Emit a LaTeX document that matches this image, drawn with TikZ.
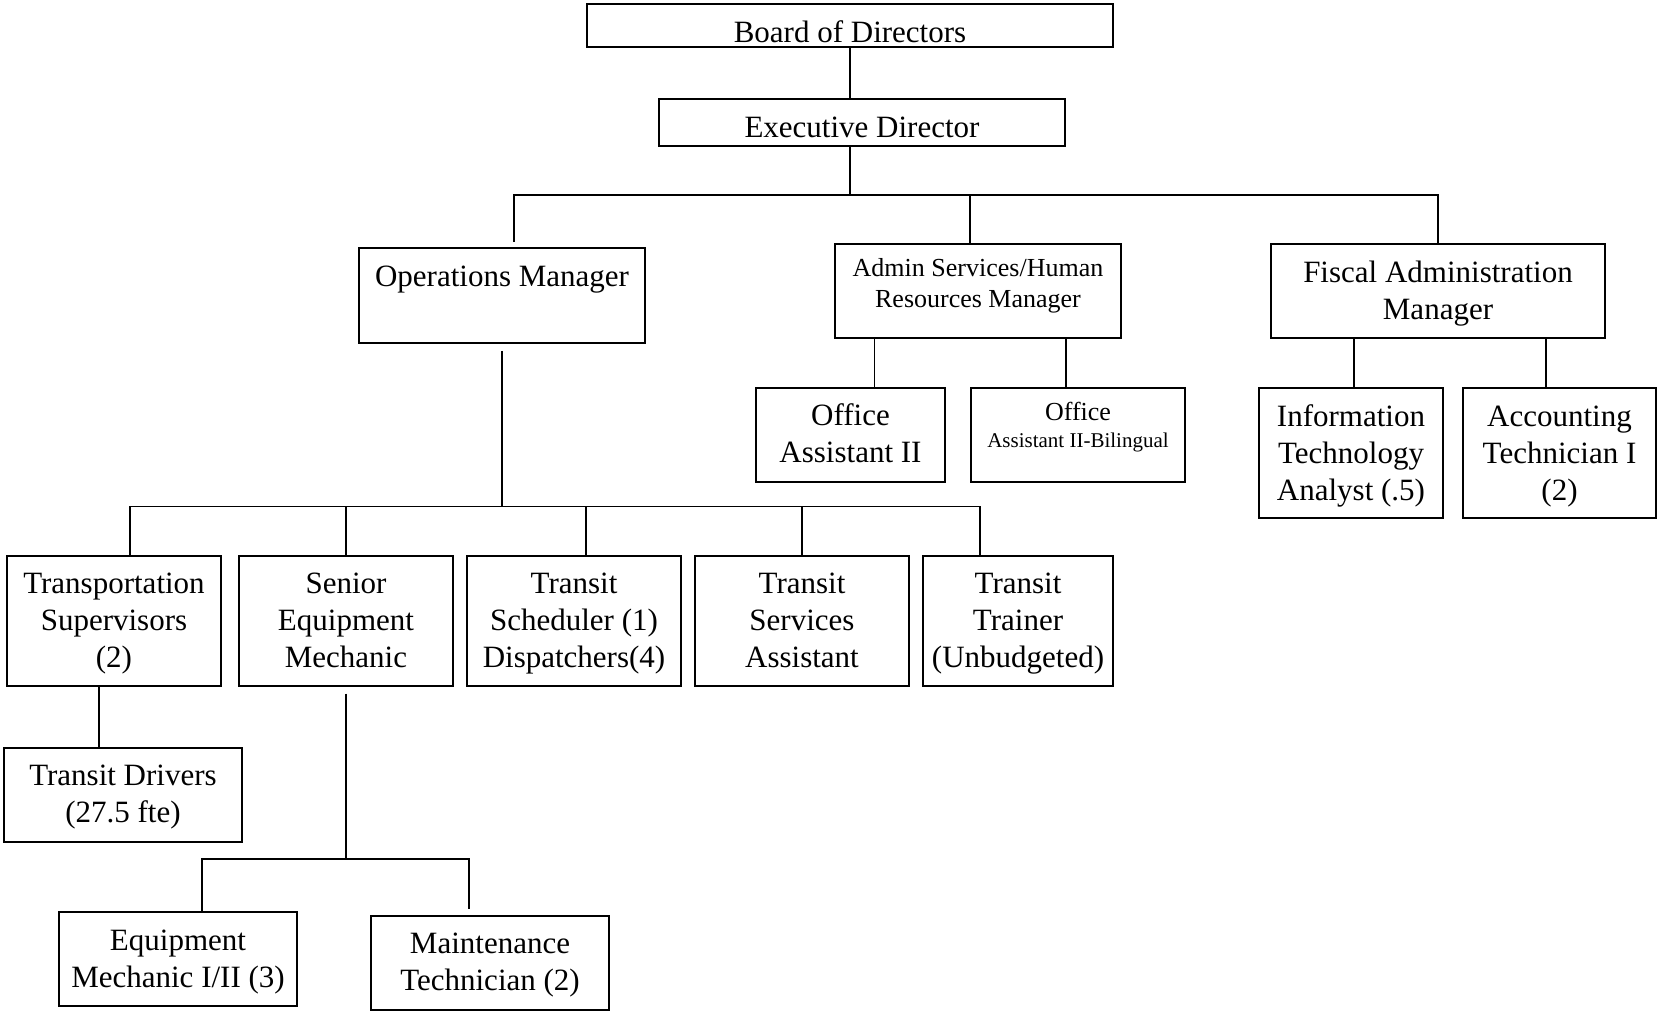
\documentclass[tikz,border=0pt]{standalone}
\usepackage{fontspec}
\setmainfont{Liberation Serif}
\usetikzlibrary{positioning}
\tikzstyle{role} = [rectangle, draw=black, line width=1.8pt, inner sep=0pt, minimum width=214pt, minimum height=130pt, text height=112pt, text depth=18pt, align=center, font=\fontsize{31}{37}\selectfont]
\tikzstyle{link} = [line width=1.6pt]
\begin{document}
\begin{tikzpicture}[x=1pt, y=-1pt]
    \useasboundingbox (0,0) rectangle (1657,1013);

        % board and director
        \node (board) [role, minimum width=526pt, minimum height=43pt, text height=38pt, text depth=5pt] at (850,25.5) {Board of Directors};
        \node (exec) [role, minimum width=406pt, minimum height=47pt, text height=38pt, text depth=9pt] at (862,122.5) {Executive Director};

        % managers
        \node (ops) [role, minimum width=286pt, minimum height=95pt, text height=38pt, text depth=57pt] at (502,295.5) {Operations Manager};
        \node (admin) [role, minimum width=286pt, minimum height=94pt, text height=63pt, text depth=31pt, font=\fontsize{26}{31}\selectfont] at (978,291) {Admin Services/Human\\Resources Manager};
        \node (fiscal) [role, minimum width=334pt, minimum height=94pt, text height=75pt, text depth=19pt] at (1438,291) {Fiscal Administration\\Manager};

        \coordinate (split1) at (850,195);
        \draw [link] (board.south) -- (board.south |- exec.north);
        \draw [link] (board.south |- exec.south) -- (split1);
        \draw [link, shorten >=5pt] (split1) -| ([xshift=12pt]ops.north);
        \draw [link] (split1) -| ([xshift=-8pt]admin.north);
        \draw [link] (split1) -| (fiscal.north);

        % admin and fiscal staff
        \node (officeA) [role, minimum width=189pt, minimum height=94pt, text height=74pt, text depth=20pt] at (850.5,435) {Office\\Assistant II};
        \node (officeB) [role, minimum width=214pt, minimum height=94pt, right=24.2pt of officeA, text height=59pt, text depth=35pt, font=\fontsize{21}{27}\selectfont] {{\fontsize{26}{27}\selectfont Office}\\Assistant II-Bilingual};
        \node (itA) [role, minimum width=184pt, minimum height=130pt] at (1351,453) {Information\\Technology\\Analyst (.5)};
        \node (acct) [role, minimum width=193pt, minimum height=130pt, right=18.2pt of itA] {Accounting\\Technician I\\(2)};

        \draw [link] ([xshift=24pt]officeA.north) -- ([xshift=24pt]officeA.north |- admin.south);
        \draw [link] ([xshift=-12pt]officeB.north) -- ([xshift=-12pt]officeB.north |- admin.south);
        \draw [link] ([xshift=3pt]itA.north) -- ([xshift=3pt]itA.north |- fiscal.south);
        \draw [link] ([xshift=-13.5pt]acct.north) -- ([xshift=-13.5pt]acct.north |- fiscal.south);

        % operations staff
        \node (trans) [role] at (114,620.7) {Transportation\\Supervisors\\(2)};
        \node (senior) [role, right=16.2pt of trans] {Senior\\Equipment\\Mechanic};
        \node (sched) [role, right=12.2pt of senior] {Transit\\Scheduler (1)\\Dispatchers(4)};
        \node (serv) [role, right=12.2pt of sched] {Transit\\Services\\Assistant};
        \node (trainer) [role, minimum width=190pt, right=12.2pt of serv] {Transit\\Trainer\\(Unbudgeted)};

        \coordinate (split2) at (ops.south |- 0,506.5);
        \draw [link, shorten <=7pt] (ops.south) -- (split2);
        \draw [link] (split2) -| ([xshift=16pt]trans.north);
        \draw [link] (split2) -| (senior.north);
        \draw [link] (split2) -| ([xshift=12pt]sched.north);
        \draw [link] (split2) -| (serv.north);
        \draw [link] (split2) -| ([xshift=-38pt]trainer.north);

        \node (drivers) [role, minimum width=238pt, minimum height=94pt, text height=74pt, text depth=20pt] at (123,795) {Transit Drivers\\(27.5 fte)};
        \draw [link] ([xshift=-15pt]trans.south) -- ([xshift=-15pt]trans.south |- drivers.north);

        \node (eqmech) [role, minimum width=238pt, minimum height=94pt, text height=75pt, text depth=19pt] at (178,959) {Equipment\\Mechanic I/II (3)};
        \node (maint) [role, minimum width=238pt, minimum height=94pt, text height=74pt, text depth=20pt] at (490,963) {Maintenance\\Technician (2)};

        \coordinate (split3) at (senior.south |- 0,859);
        \draw [link, shorten <=7pt] (senior.south) -- (split3);
        \draw [link] (split3) -| ([xshift=24pt]eqmech.north);
        \draw [link, shorten >=6pt] (split3) -| ([xshift=-21pt]maint.north);

\end{tikzpicture}
\end{document}
